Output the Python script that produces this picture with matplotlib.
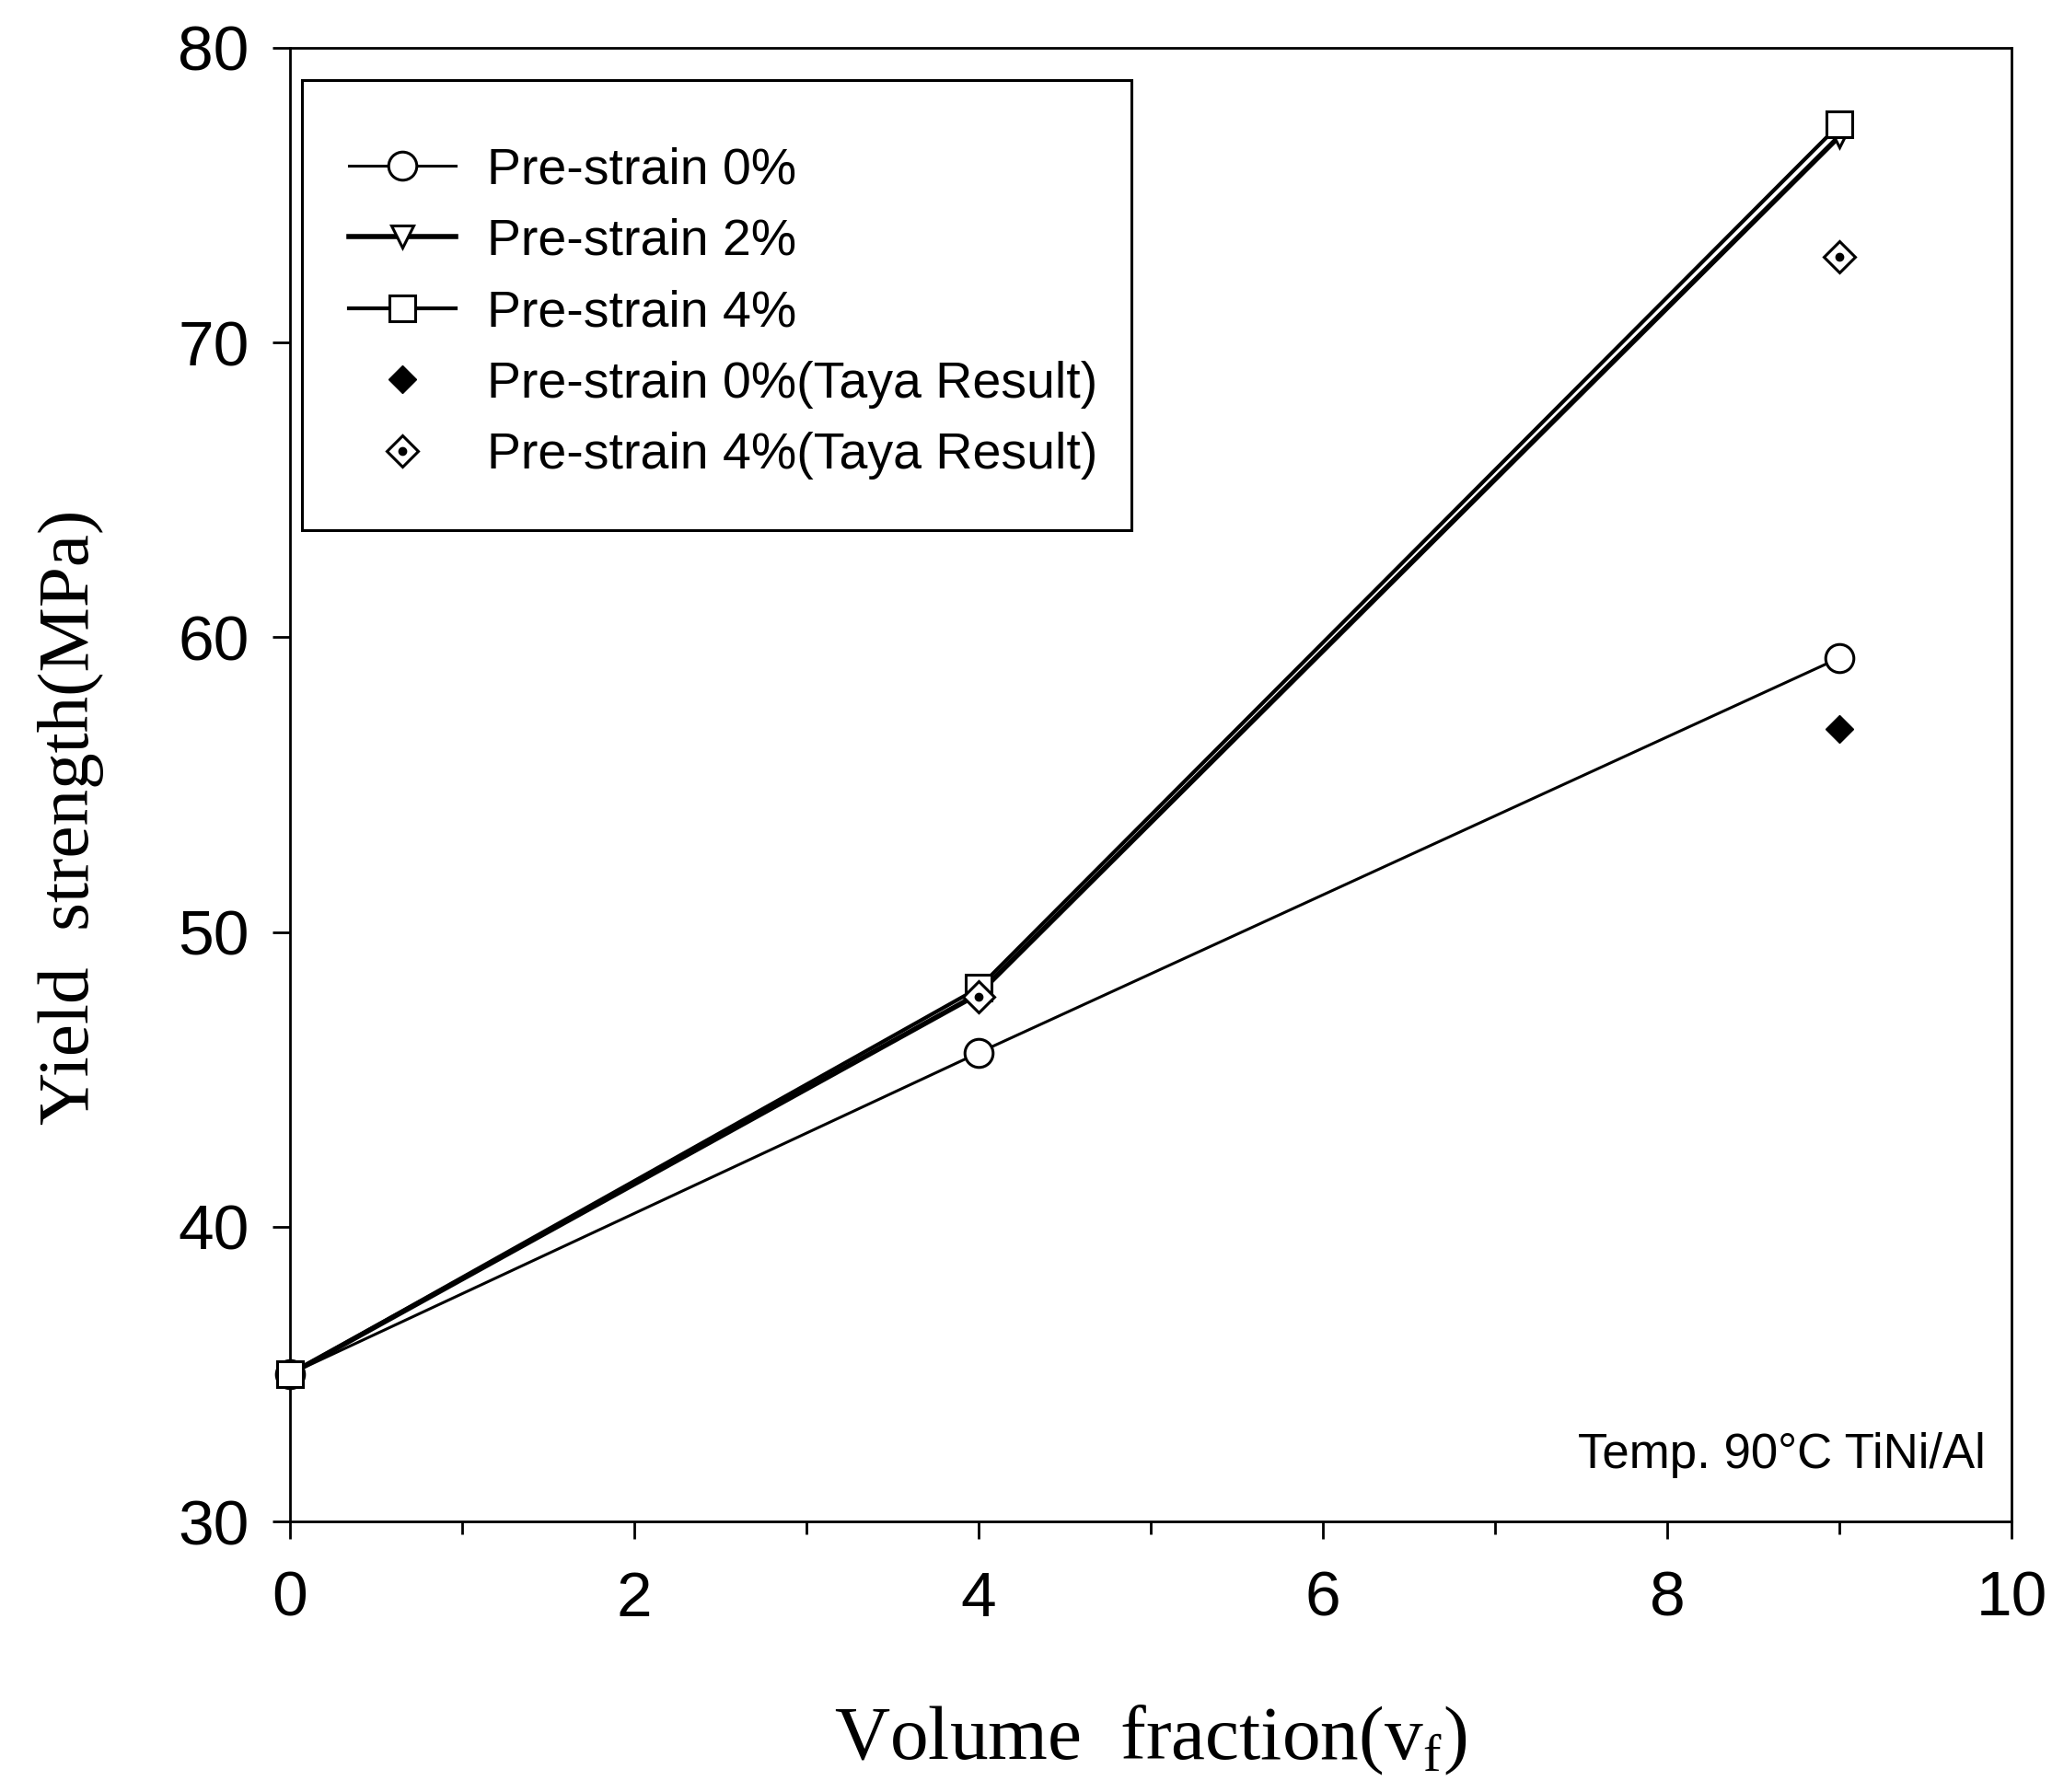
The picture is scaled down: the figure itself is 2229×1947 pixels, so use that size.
import matplotlib
matplotlib.use('Agg')
import matplotlib.pyplot as plt
from matplotlib.patches import Rectangle
from matplotlib.legend_handler import HandlerTuple

# data
vf = [0, 4, 9]
ps0 = [35.0, 45.9, 59.3]
ps2 = [35.0, 47.9, 77.0]
ps4 = [35.0, 48.1, 77.4]
taya0_x = [9]
taya0_y = [56.9]
taya4_x = [4, 9]
taya4_y = [47.8, 72.9]

sans = 'Liberation Sans'
serif = 'Liberation Serif'
plt.rcParams['mathtext.fontset'] = 'custom'
plt.rcParams['mathtext.rm'] = serif

fig = plt.figure(figsize=(22.29, 19.47), dpi=100)
ax = fig.add_axes([0.1413, 0.151, 0.839, 0.8223])

ax.plot(vf, ps0, color='black', lw=2.2, marker='o', ms=22, mfc='white', mec='black', mew=2.2,
        label='Pre-strain 0%', zorder=3, clip_on=False)
ax.plot(vf, ps2, color='black', lw=4, marker='v', ms=17, mfc='white', mec='black', mew=2.2,
        label='Pre-strain 2%', zorder=3, clip_on=False)
ax.plot(vf, ps4, color='black', lw=3, marker='s', ms=20, mfc='white', mec='black', mew=2.2,
        label='Pre-strain 4%', zorder=4, clip_on=False)
h_t0, = ax.plot(taya0_x, taya0_y, ls='none', marker='D', ms=15, color='black', zorder=5)
h_t4a, = ax.plot(taya4_x, taya4_y, ls='none', marker='D', ms=17, mfc='white', mec='black',
                 mew=2.2, zorder=5)
h_t4b, = ax.plot(taya4_x, taya4_y, ls='none', marker='o', ms=6, color='black', zorder=6)

ax.set_xlim(0, 10)
ax.set_ylim(30, 80)
ax.set_xticks([0, 2, 4, 6, 8, 10])
ax.set_xticks([1, 3, 5, 7, 9], minor=True)
ax.set_yticks([30, 40, 50, 60, 70, 80])
ax.tick_params(axis='both', which='major', direction='out', length=14, width=2,
               labelsize=50)
ax.tick_params(axis='x', which='major', pad=24)
ax.tick_params(axis='y', which='major', pad=18)
ax.tick_params(axis='x', which='minor', direction='out', length=10, width=2)
for lab in ax.get_xticklabels() + ax.get_yticklabels():
    lab.set_family(sans)
for s in ax.spines.values():
    s.set_linewidth(2)

ax.set_xlabel('Volume  fraction(v$_{\\rm f}$)', family=serif, fontsize=60, labelpad=58)
ax.set_ylabel('Yield  strength(MPa)', family=serif, fontsize=57)
ax.yaxis.set_label_coords(-0.108, 0.478)

handles, labels = ax.get_legend_handles_labels()
handles += [h_t0, (h_t4a, h_t4b)]
labels += ['Pre-strain 0%(Taya Result)', 'Pre-strain 4%(Taya Result)']
leg = ax.legend(handles, labels, loc='upper left', bbox_to_anchor=(0.034, 0.933),
                borderaxespad=0, borderpad=0, prop={'family': sans, 'size': 40},
                frameon=False, handlelength=2.1, handletextpad=0.6, labelspacing=0.46,
                handler_map={tuple: HandlerTuple(ndivide=1, pad=0)})

# legend box
ax.add_patch(Rectangle((0.007, 0.673), 0.482, 0.305, transform=ax.transAxes,
                       fill=False, edgecolor='black', lw=2.2, zorder=6))

ax.text(0.985, 0.045, 'Temp. 90°C TiNi/Al', transform=ax.transAxes, ha='right',
        va='center', family=sans, fontsize=38)

fig.savefig('out.png', dpi=100)
